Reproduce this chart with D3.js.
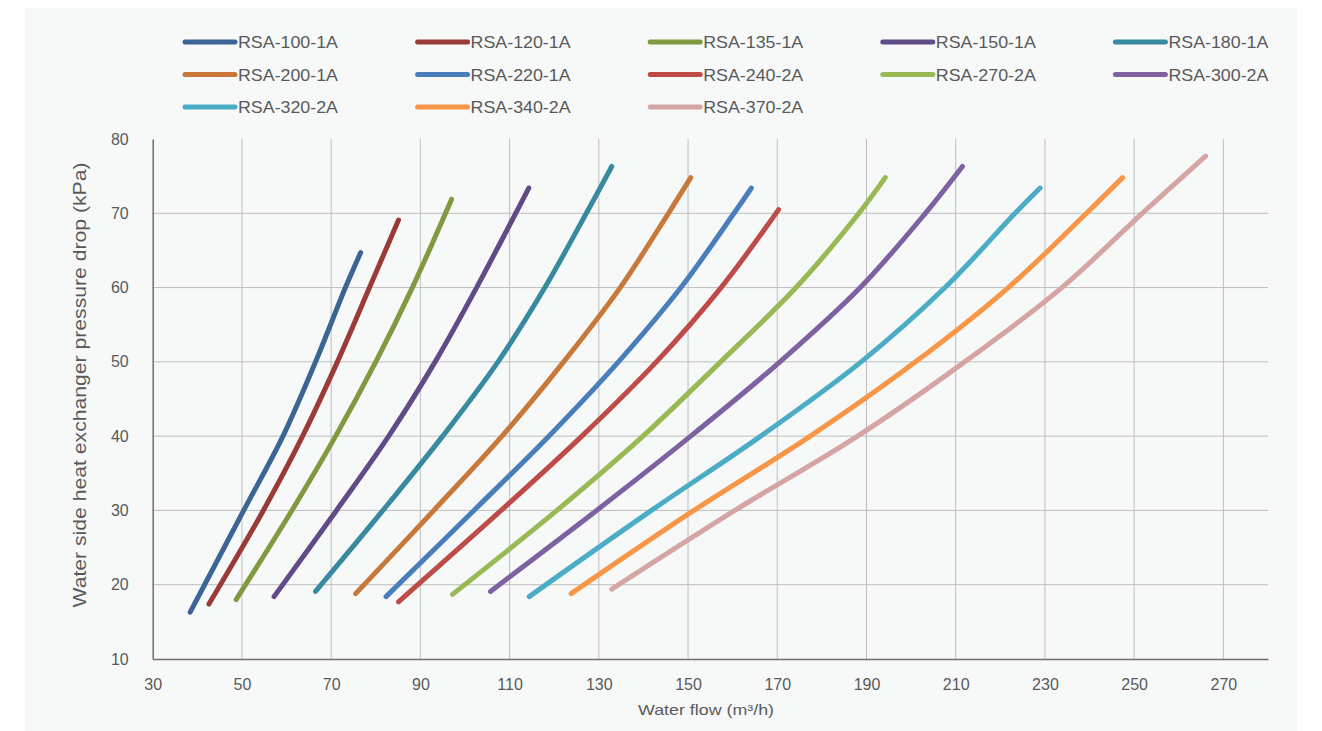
<!DOCTYPE html>
<html><head><meta charset="utf-8">
<script src="https://cdn.jsdelivr.net/npm/d3@7"></script>
<style>
html,body{margin:0;padding:0;background:#ffffff;}
svg{display:block;font-family:"Liberation Sans",Arial,Helvetica,sans-serif;}
</style></head><body>
<svg id="chart" width="1322" height="731"></svg>
<script>
// ---- data ----
const seriesNames = ["RSA-100-1A","RSA-120-1A","RSA-135-1A","RSA-150-1A","RSA-180-1A",
                     "RSA-200-1A","RSA-220-1A","RSA-240-2A","RSA-270-2A","RSA-300-2A",
                     "RSA-320-2A","RSA-340-2A","RSA-370-2A"];
// water flow (m3/h) per series
const flows = [
  [38.4, 50.4, 59.2, 66.5, 73.2, 76.6],
  [42.6, 54.8, 63.6, 71.4, 78.6, 85.1],
  [48.7, 61.2, 71.0, 80.0, 88.2, 97.0],
  [57.2, 71.2, 82.9, 93.3, 102.6, 114.3],
  [66.5, 81.6, 95.0, 107.4, 117.9, 127.2, 132.9],
  [75.5, 93.0, 108.3, 122.1, 134.8, 145.6, 150.6],
  [82.3, 102.0, 118.8, 134.4, 148.4, 160.3, 164.2],
  [85.1, 108.1, 126.2, 142.9, 157.4, 170.3],
  [97.2, 120.6, 139.9, 157.3, 174.2, 188.3, 194.2],
  [105.7, 129.5, 150.6, 170.6, 188.6, 203.2, 211.5],
  [114.4, 141.8, 166.3, 188.8, 207.6, 223.3, 228.9],
  [123.8, 151.3, 177.4, 201.0, 221.8, 239.3, 247.4],
  [132.9, 160.5, 188.0, 212.0, 233.8, 251.8, 266.0]
];
// pressure drop (kPa) per series
const drops = [
  [16.3, 30, 40, 50, 60, 64.7],
  [17.4, 30, 40, 50, 60, 69.1],
  [18.0, 30, 40, 50, 60, 71.9],
  [18.4, 30, 40, 50, 60, 73.4],
  [19.1, 30, 40, 50, 60, 70, 76.3],
  [18.8, 30, 40, 50, 60, 70, 74.8],
  [18.4, 30, 40, 50, 60, 70, 73.4],
  [17.7, 30, 40, 50, 60, 70.5],
  [18.7, 30, 40, 50, 60, 70, 74.8],
  [19.1, 30, 40, 50, 60, 70, 76.3],
  [18.4, 30, 40, 50, 60, 70, 73.4],
  [18.8, 30, 40, 50, 60, 70, 74.8],
  [19.4, 30, 40, 50, 60, 70, 77.7]
];
const xTicks = [30,50,70,90,110,130,150,170,190,210,230,250,270];
const yTicks = [10,20,30,40,50,60,70,80];
const xTitle = "Water flow (m³/h)";
const yTitle = "Water side heat exchanger pressure drop (kPa)";

// ---- styles ----
const colors = ["#3C6595","#9B3B38","#7F9A3F","#604B86","#378A9F",
                "#C8793A","#4A7EBB","#BE4B48","#98B954","#7D61A0",
                "#4BACC6","#F79646","#D5A5A4"];

const svg = d3.select("#chart");
svg.append("rect").attr("x",25).attr("y",8).attr("width",1272).attr("height",723).attr("fill","#F7F9F9");

const x = d3.scaleLinear().domain([30,280]).range([152.7,1268]);
const y = d3.scaleLinear().domain([10,80]).range([659,139]);

// grid
const grid = svg.append("g");
grid.selectAll("line.v").data(xTicks.slice(1)).join("line")
  .attr("x1",d=>x(d)).attr("x2",d=>x(d)).attr("y1",y(80)).attr("y2",y(10))
  .attr("stroke","#BDBDBD").attr("stroke-width",1);
grid.selectAll("line.h").data(yTicks.filter(d=>d>10 && d<80)).join("line")
  .attr("x1",x(30)).attr("x2",x(280)).attr("y1",d=>y(d)).attr("y2",d=>y(d))
  .attr("stroke","#BDBDBD").attr("stroke-width",1);

// axes
const xAxis = d3.axisBottom(x).tickValues(xTicks).tickSize(0).tickPadding(20).tickFormat(d3.format("d"));
const yAxis = d3.axisLeft(y).tickValues(yTicks).tickSize(0).tickPadding(24).tickFormat(d3.format("d"));
const gx = svg.append("g").attr("transform",`translate(0,${y(10)})`).call(xAxis);
const gy = svg.append("g").attr("transform",`translate(${x(30)},0)`).call(yAxis);
[gx,gy].forEach(g=>{
  g.select(".domain").attr("stroke","#6E6E6E").attr("stroke-width",1.5);
  g.selectAll("text").attr("fill","#595959").attr("font-size",16).attr("font-family","Liberation Sans, Arial, sans-serif");
});

// lines
const line = d3.line().x(d=>x(d[0])).y(d=>y(d[1])).curve(d3.curveCatmullRom.alpha(0.5));
seriesNames.forEach((name,i)=>{
  const pts = flows[i].map((f,j)=>[f,drops[i][j]]);
  svg.append("path").datum(pts).attr("d",line)
    .attr("fill","none").attr("stroke",colors[i]).attr("stroke-width",5)
    .attr("stroke-linecap","round").attr("stroke-linejoin","round");
});

// titles
const xt = svg.append("text").attr("x",706).attr("y",715).attr("text-anchor","middle")
  .attr("font-size",15).attr("fill","#595959").text(xTitle);
const yt = svg.append("text").attr("transform","translate(86,385) rotate(-90)").attr("text-anchor","middle")
  .attr("font-size",18).attr("fill","#595959").text(yTitle);
yt.attr("textLength",445).attr("lengthAdjust","spacingAndGlyphs");
xt.attr("textLength",136).attr("lengthAdjust","spacingAndGlyphs");

// legend
const leg = svg.append("g");
seriesNames.forEach((name,i)=>{
  const col = i%5, row = Math.floor(i/5);
  const lx = 185 + col*232.6, ly = 42 + row*32.5;
  leg.append("line").attr("x1",lx).attr("x2",lx+50).attr("y1",ly).attr("y2",ly)
    .attr("stroke",colors[i]).attr("stroke-width",5).attr("stroke-linecap","round");
  leg.append("text").attr("x",lx+53).attr("y",ly+6).attr("font-size",17).attr("fill","#595959")
    .attr("textLength",100).attr("lengthAdjust","spacingAndGlyphs").text(name);
});
</script>
</body></html>
